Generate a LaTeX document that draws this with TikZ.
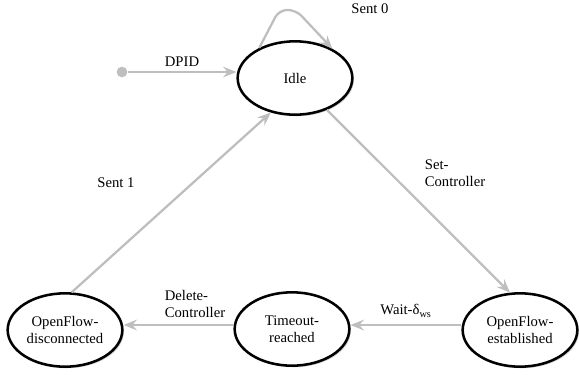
\documentclass[tikz,border=0pt]{standalone}
\usepackage{fontspec}
\setmainfont{Liberation Serif}
\usetikzlibrary{shapes.geometric,arrows.meta,shadows}

\definecolor{edgegray}{RGB}{190,190,190}
\tikzset{
  state/.style={ellipse, draw, line width=1.9pt, fill=white, inner sep=0pt,
    minimum width=86pt, minimum height=55pt, align=center, font=\fontsize{11}{13}\selectfont,
    drop shadow={shadow xshift=1.2pt, shadow yshift=-1.2pt, opacity=0.35}},
  trans/.style={draw=edgegray, line width=1.7pt,
    -{Stealth[length=10pt, width=8pt, inset=3.5pt]}},
  lbl/.style={font=\fontsize{11}{13}\selectfont, align=left}
}

\begin{document}
\begin{tikzpicture}[x=0.75pt, y=-0.75pt]
    \useasboundingbox (0,0) rectangle (579,379);

    \node[state] (idle) at (295, 78) {Idle};
    \node[state] (disc) at (65, 330) {OpenFlow-\\disconnected};
    \node[state] (tout) at (292, 329) {Timeout-\\reached};
    \node[state] (estab) at (520, 330) {OpenFlow-\\established};

    \node[circle, fill=edgegray, inner sep=0pt, minimum size=8pt] (start) at (122, 72) {};
    \coordinate (loopl) at (279, 10);
    \coordinate (loopr) at (296, 10);

    \draw[trans] (start) -- (idle.west |- start) node[midway, above, lbl] {DPID};
    \draw[trans, rounded corners=6pt] (idle.140) -- (loopl) -- (loopr) -- (idle.38);
    \node[lbl] (sent0) at (370, 9) {Sent 0};
    \draw[trans] (idle.-45) -- (estab.105);
    \node[lbl] (setc) at (455, 173) {Set-\\Controller};
    \draw[trans] (estab.west |- 0,325) -- (tout.east |- 0,325);
    \node[lbl] (wait) at (406, 311) {Wait-δ\textsubscript{ws}};
    \draw[trans] (tout.west |- 0,325) -- (disc.east |- 0,325);
    \node[lbl] (delc) at (195, 304) {\hfill Delete-\\Controller};
    \draw[trans] (disc.80) -- (idle.-125);
    \node[lbl] (sent1) at (116, 183) {Sent 1};
\end{tikzpicture}
\end{document}
